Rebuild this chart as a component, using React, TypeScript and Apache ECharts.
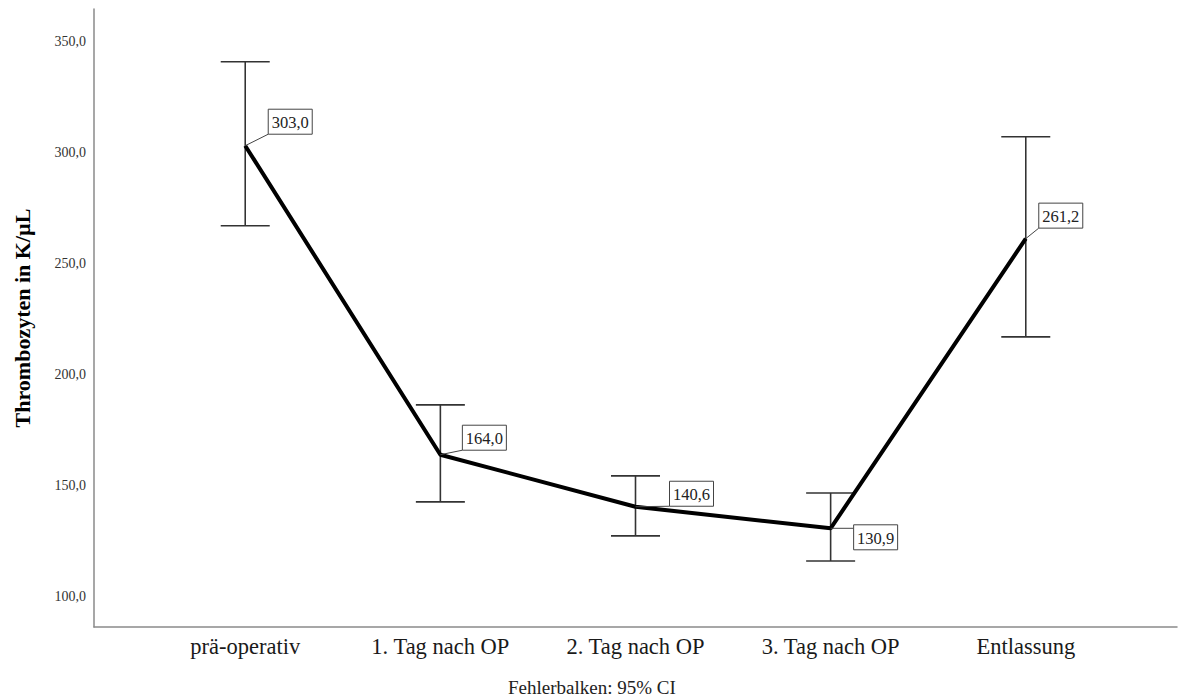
import React, { useEffect, useRef } from "react";
import * as echarts from "echarts";

const categories = ["prä-operativ", "1. Tag nach OP", "2. Tag nach OP", "3. Tag nach OP", "Entlassung"];
const means = [303.0, 164.0, 140.6, 130.9, 261.2];
const ciLow = [267.0, 142.8, 127.5, 116.2, 217.0];
const ciHigh = [340.8, 186.4, 154.5, 146.8, 307.0];
const yTicks = [100, 150, 200, 250, 300, 350];
const yTitle = "Thrombozyten in K/µL";
const footer = "Fehlerbalken: 95% CI";

// label box offsets (pixels) relative to each point: [left edge dx, center dy]
const labelOffsets: [number, number][] = [
  [23, -24],
  [22, -17],
  [34, -13],
  [23, 9],
  [13, -23],
];

const FONT = "'Liberation Serif', 'Times New Roman', serif";
const fmt = (v: number) => v.toFixed(1).replace(".", ",");

export default function App() {
  const ref = useRef<HTMLDivElement>(null);
  useEffect(() => {
    if (!ref.current) return;
    const chart = echarts.init(ref.current, null, { renderer: "svg" });
    const lineData = means.map((m, i) => [i, m]);
    const errData = means.map((_, i) => [i, ciLow[i], ciHigh[i]]);
    const labelData = means.map((m, i) => [i, m]);
    chart.setOption({
      animation: false,
      backgroundColor: "#fff",
      grid: { left: 94, right: 1, top: 9, bottom: 73 },
      xAxis: {
        type: "value",
        min: -0.775,
        max: 4.775,
        axisLine: { show: true, onZero: false, lineStyle: { color: "#8a8a8a", width: 1.5 } },
        axisTick: { show: false },
        splitLine: { show: false },
        axisLabel: {
          customValues: [0, 1, 2, 3, 4],
          formatter: (v: number) => categories[Math.round(v)] ?? "",
          fontFamily: FONT,
          fontSize: 22.5,
          color: "#1a1a1a",
          margin: 8,
        },
      },
      yAxis: {
        type: "value",
        min: 86.5,
        max: 364.5,
        name: yTitle,
        nameLocation: "middle",
        nameGap: 61,
        nameTextStyle: { fontFamily: FONT, fontSize: 22, fontWeight: "bold", color: "#000" },
        axisLine: { show: true, onZero: false, lineStyle: { color: "#8a8a8a", width: 1.5 } },
        axisTick: { show: false },
        splitLine: { show: false },
        axisLabel: {
          customValues: yTicks,
          formatter: (v: number) => fmt(v),
          fontFamily: FONT,
          fontSize: 14,
          color: "#333",
          margin: 8,
        },
      },
      graphic: [
        {
          type: "text",
          left: 508,
          top: 678,
          style: { text: footer, fontFamily: FONT, fontSize: 19, fill: "#222" },
        },
      ],
      series: [
        {
          type: "custom",
          z: 2,
          data: errData,
          renderItem: (params: any, api: any) => {
            const x = api.value(0);
            const lo = api.coord([x, api.value(1)]);
            const hi = api.coord([x, api.value(2)]);
            const h = 24.5;
            const style = { stroke: "#333", lineWidth: 1.6 };
            return {
              type: "group",
              children: [
                { type: "line", shape: { x1: lo[0], y1: lo[1], x2: hi[0], y2: hi[1] }, style },
                { type: "line", shape: { x1: hi[0] - h, y1: hi[1], x2: hi[0] + h, y2: hi[1] }, style },
                { type: "line", shape: { x1: lo[0] - h, y1: lo[1], x2: lo[0] + h, y2: lo[1] }, style },
              ],
            };
          },
        },
        {
          type: "line",
          z: 3,
          data: lineData,
          symbol: "none",
          lineStyle: { color: "#000", width: 4 },
        },
        {
          type: "custom",
          z: 4,
          data: labelData,
          renderItem: (params: any, api: any) => {
            const i = params.dataIndex;
            const v = api.value(1);
            const p = api.coord([api.value(0), v]);
            const [dx, dy] = labelOffsets[i];
            const w = 44;
            const hgt = 25;
            const bx = p[0] + dx;
            const by = p[1] + dy - hgt / 2;
            const ey = Math.min(Math.max(p[1], by + 3), by + hgt);
            return {
              type: "group",
              children: [
                { type: "line", shape: { x1: p[0], y1: p[1], x2: bx, y2: ey }, style: { stroke: "#444", lineWidth: 1 } },
                { type: "rect", shape: { x: bx, y: by, width: w, height: hgt }, style: { fill: "#fff", stroke: "#444", lineWidth: 1 } },
                {
                  type: "text",
                  style: {
                    text: fmt(v),
                    x: bx + w / 2,
                    y: by + hgt / 2 + 1,
                    align: "center",
                    verticalAlign: "middle",
                    fontFamily: FONT,
                    fontSize: 16.5,
                    fill: "#222",
                  },
                },
              ],
            };
          },
        },
      ],
    });
    return () => chart.dispose();
  }, []);
  return <div ref={ref} style={{ position: "fixed", left: 0, top: 0, width: 1178, height: 700 }} />;
}
